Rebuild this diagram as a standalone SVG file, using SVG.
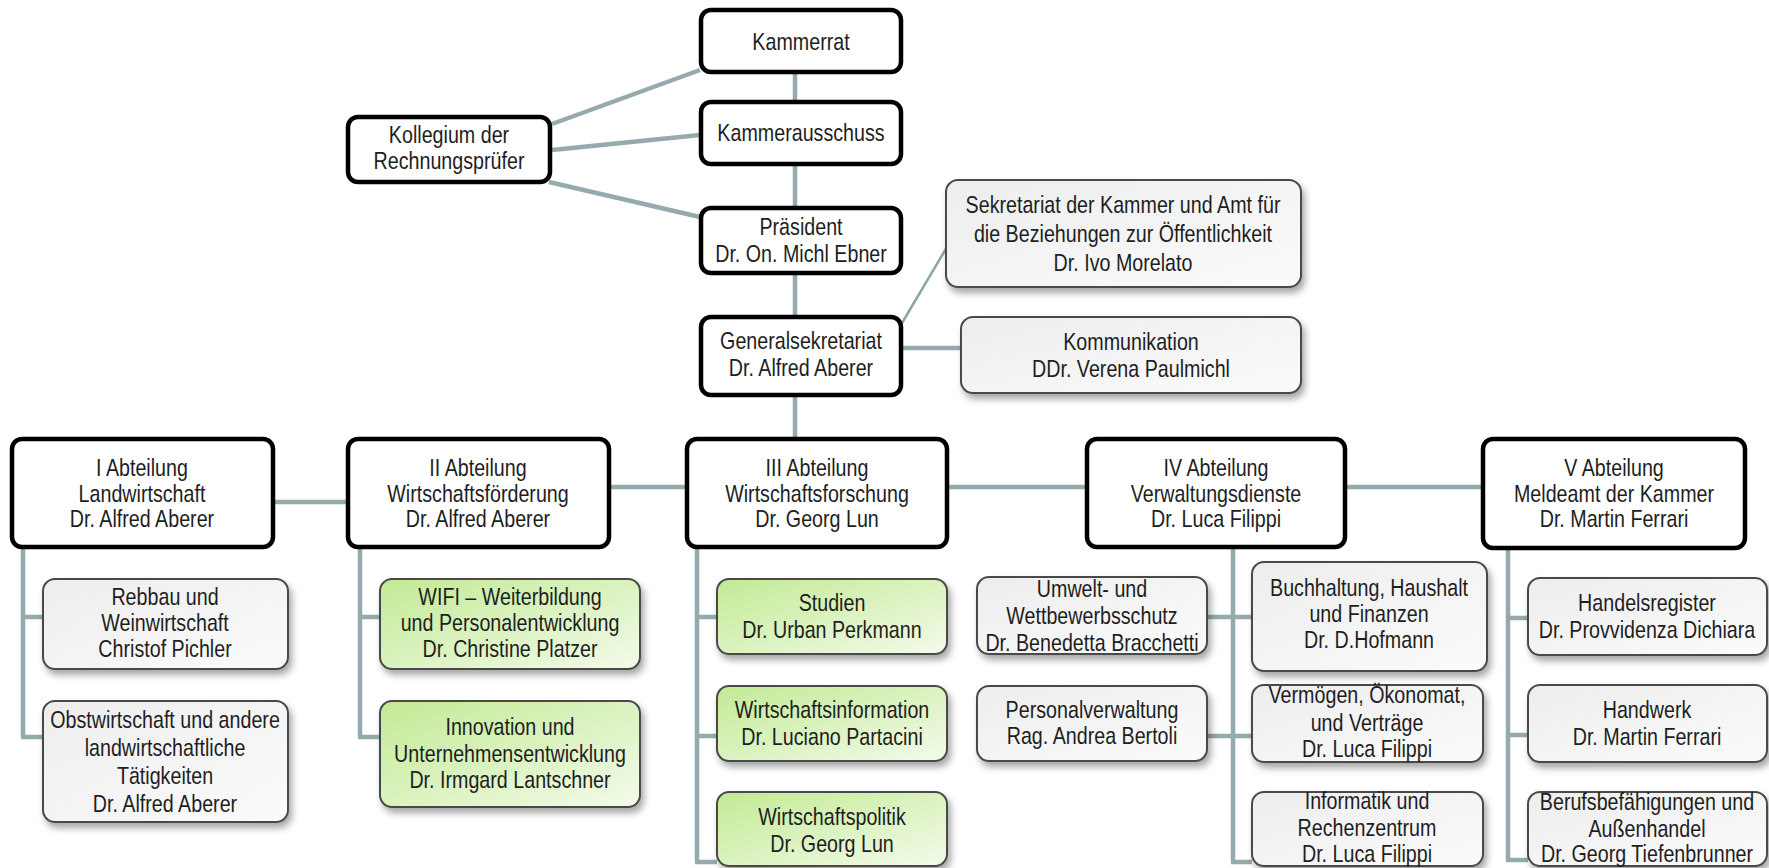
<svg xmlns="http://www.w3.org/2000/svg" width="1769" height="868" viewBox="0 0 1769 868">
<style>
.t{font-family:"Liberation Sans","Arial",sans-serif;font-size:24px;fill:#1e1e1e;text-anchor:middle}
.top{fill:#fff;stroke:#000;stroke-width:4.5}
.sub{fill:url(#gray);stroke:#4a4a4a;stroke-width:2;filter:url(#sh)}
.grn{fill:url(#green);stroke:#4a4a4a;stroke-width:2;filter:url(#sh)}
.c{stroke:#94aaad;stroke-width:4.5;fill:none}
.c2{stroke:#8ba89f;stroke-width:2.5;fill:none}
</style>
<defs>
<linearGradient id="gray" x1="0" y1="0" x2="1" y2="1"><stop offset="0" stop-color="#ededed"/><stop offset="1" stop-color="#fbfbfb"/></linearGradient>
<linearGradient id="green" x1="0" y1="0" x2="1" y2="1"><stop offset="0" stop-color="#c2ea94"/><stop offset="1" stop-color="#f3fbea"/></linearGradient>
<filter id="sh" x="-10%" y="-10%" width="130%" height="140%"><feDropShadow dx="3" dy="5" stdDeviation="3.5" flood-color="#000" flood-opacity="0.35"/></filter>
</defs>
<rect width="1769" height="868" fill="#fff"/>
<g id="connectors">
<path class="c" d="M795 72V102M795 164V208M795 273V317M795 395V439"/>
<path class="c" d="M552 124L700 70M552 150L700 135M549 182L700 217"/>
<path class="c2" d="M902 323L947 247"/>
<path class="c" d="M901 348H961"/>
<path class="c" d="M273 502H348M609 487H687M947 487H1087M1345 487H1483"/>
<path class="c" d="M23 547V737M21 617H43M21 737H43"/>
<path class="c" d="M360 547V737M358 617H380M358 737H380"/>
<path class="c" d="M697 547V862M695 617H717M695 736H717M695 862H717"/>
<path class="c" d="M1233 547V862M1207 617H1252M1207 736H1252M1231 862H1252"/>
<path class="c" d="M1508 548V860M1506 618H1528M1506 735H1528M1506 860H1528"/>
</g>
<g id="kammerrat"><rect class="top" x="701" y="10" width="200" height="62" rx="10"/><text class="t" transform="translate(801 50) scale(.82 1)">Kammerrat</text></g>
<g id="kammerausschuss"><rect class="top" x="701" y="102" width="200" height="62" rx="10"/><text class="t" transform="translate(801 141) scale(.82 1)">Kammerausschuss</text></g>
<g id="kollegium"><rect class="top" x="348" y="117" width="202" height="65" rx="10"/><text class="t" transform="translate(449 143) scale(.82 1)">Kollegium der</text><text class="t" transform="translate(449 169) scale(.82 1)">Rechnungsprüfer</text></g>
<g id="praesident"><rect class="top" x="701" y="208" width="200" height="65" rx="10"/><text class="t" transform="translate(801 235) scale(.82 1)">Präsident</text><text class="t" transform="translate(801 262) scale(.82 1)">Dr. On. Michl Ebner</text></g>
<g id="generalsekretariat"><rect class="top" x="701" y="317" width="200" height="78" rx="10"/><text class="t" transform="translate(801 349) scale(.82 1)">Generalsekretariat</text><text class="t" transform="translate(801 376) scale(.82 1)">Dr. Alfred Aberer</text></g>
<g id="sekretariat"><rect class="sub" x="946" y="180" width="355" height="107" rx="12"/><text class="t" transform="translate(1123 213) scale(.82 1)">Sekretariat der Kammer und Amt für</text><text class="t" transform="translate(1123 242) scale(.82 1)">die Beziehungen zur Öffentlichkeit</text><text class="t" transform="translate(1123 271) scale(.82 1)">Dr. Ivo Morelato</text></g>
<g id="kommunikation"><rect class="sub" x="961" y="317" width="340" height="76" rx="12"/><text class="t" transform="translate(1131 350) scale(.82 1)">Kommunikation</text><text class="t" transform="translate(1131 377) scale(.82 1)">DDr. Verena Paulmichl</text></g>
<g id="abt1"><rect class="top" x="12" y="439" width="261" height="108" rx="10"/><text class="t" transform="translate(142 476) scale(.82 1)">I Abteilung</text><text class="t" transform="translate(142 502) scale(.82 1)">Landwirtschaft</text><text class="t" transform="translate(142 527) scale(.82 1)">Dr. Alfred Aberer</text></g>
<g id="abt2"><rect class="top" x="348" y="439" width="261" height="108" rx="10"/><text class="t" transform="translate(478 476) scale(.82 1)">II Abteilung</text><text class="t" transform="translate(478 502) scale(.82 1)">Wirtschaftsförderung</text><text class="t" transform="translate(478 527) scale(.82 1)">Dr. Alfred Aberer</text></g>
<g id="abt3"><rect class="top" x="687" y="439" width="260" height="108" rx="10"/><text class="t" transform="translate(817 476) scale(.82 1)">III Abteilung</text><text class="t" transform="translate(817 502) scale(.82 1)">Wirtschaftsforschung</text><text class="t" transform="translate(817 527) scale(.82 1)">Dr. Georg Lun</text></g>
<g id="abt4"><rect class="top" x="1087" y="439" width="258" height="108" rx="10"/><text class="t" transform="translate(1216 476) scale(.82 1)">IV Abteilung</text><text class="t" transform="translate(1216 502) scale(.82 1)">Verwaltungsdienste</text><text class="t" transform="translate(1216 527) scale(.82 1)">Dr. Luca Filippi</text></g>
<g id="abt5"><rect class="top" x="1483" y="439" width="262" height="109" rx="10"/><text class="t" transform="translate(1614 476) scale(.82 1)">V Abteilung</text><text class="t" transform="translate(1614 502) scale(.82 1)">Meldeamt der Kammer</text><text class="t" transform="translate(1614 527) scale(.82 1)">Dr. Martin Ferrari</text></g>
<g id="rebbau"><rect class="sub" x="43" y="579" width="245" height="90" rx="12"/><text class="t" transform="translate(165 605) scale(.82 1)">Rebbau und</text><text class="t" transform="translate(165 631) scale(.82 1)">Weinwirtschaft</text><text class="t" transform="translate(165 657) scale(.82 1)">Christof Pichler</text></g>
<g id="obst"><rect class="sub" x="43" y="701" width="245" height="121" rx="12"/><text class="t" transform="translate(165 728) scale(.82 1)">Obstwirtschaft und andere</text><text class="t" transform="translate(165 756) scale(.82 1)">landwirtschaftliche</text><text class="t" transform="translate(165 784) scale(.82 1)">Tätigkeiten</text><text class="t" transform="translate(165 812) scale(.82 1)">Dr. Alfred Aberer</text></g>
<g id="wifi"><rect class="grn" x="380" y="579" width="260" height="90" rx="12"/><text class="t" transform="translate(510 605) scale(.82 1)">WIFI – Weiterbildung</text><text class="t" transform="translate(510 631) scale(.82 1)">und Personalentwicklung</text><text class="t" transform="translate(510 657) scale(.82 1)">Dr. Christine Platzer</text></g>
<g id="innovation"><rect class="grn" x="380" y="701" width="260" height="106" rx="12"/><text class="t" transform="translate(510 735) scale(.82 1)">Innovation und</text><text class="t" transform="translate(510 762) scale(.82 1)">Unternehmensentwicklung</text><text class="t" transform="translate(510 788) scale(.82 1)">Dr. Irmgard Lantschner</text></g>
<g id="studien"><rect class="grn" x="717" y="579" width="230" height="75" rx="12"/><text class="t" transform="translate(832 611) scale(.82 1)">Studien</text><text class="t" transform="translate(832 638) scale(.82 1)">Dr. Urban Perkmann</text></g>
<g id="wirtschaftsinformation"><rect class="grn" x="717" y="686" width="230" height="75" rx="12"/><text class="t" transform="translate(832 718) scale(.82 1)">Wirtschaftsinformation</text><text class="t" transform="translate(832 745) scale(.82 1)">Dr. Luciano Partacini</text></g>
<g id="wirtschaftspolitik"><rect class="grn" x="717" y="792" width="230" height="74" rx="12"/><text class="t" transform="translate(832 825) scale(.82 1)">Wirtschaftspolitik</text><text class="t" transform="translate(832 852) scale(.82 1)">Dr. Georg Lun</text></g>
<g id="umwelt"><rect class="sub" x="977" y="577" width="230" height="77" rx="12"/><text class="t" transform="translate(1092 597) scale(.82 1)">Umwelt- und</text><text class="t" transform="translate(1092 624) scale(.82 1)">Wettbewerbsschutz</text><text class="t" transform="translate(1092 651) scale(.82 1)">Dr. Benedetta Bracchetti</text></g>
<g id="personal"><rect class="sub" x="977" y="686" width="230" height="75" rx="12"/><text class="t" transform="translate(1092 718) scale(.82 1)">Personalverwaltung</text><text class="t" transform="translate(1092 744) scale(.82 1)">Rag. Andrea Bertoli</text></g>
<g id="buchhaltung"><rect class="sub" x="1252" y="562" width="235" height="109" rx="12"/><text class="t" transform="translate(1369 596) scale(.82 1)">Buchhaltung, Haushalt</text><text class="t" transform="translate(1369 622) scale(.82 1)">und Finanzen</text><text class="t" transform="translate(1369 648) scale(.82 1)">Dr. D.Hofmann</text></g>
<g id="vermoegen"><rect class="sub" x="1252" y="685" width="231" height="77" rx="12"/><text class="t" transform="translate(1367 703) scale(.82 1)">Vermögen, Ökonomat,</text><text class="t" transform="translate(1367 731) scale(.82 1)">und Verträge</text><text class="t" transform="translate(1367 757) scale(.82 1)">Dr. Luca Filippi</text></g>
<g id="informatik"><rect class="sub" x="1252" y="792" width="231" height="74" rx="12"/><text class="t" transform="translate(1367 809) scale(.82 1)">Informatik und</text><text class="t" transform="translate(1367 836) scale(.82 1)">Rechenzentrum</text><text class="t" transform="translate(1367 862) scale(.82 1)">Dr. Luca Filippi</text></g>
<g id="handelsregister"><rect class="sub" x="1528" y="578" width="239" height="77" rx="12"/><text class="t" transform="translate(1647 611) scale(.82 1)">Handelsregister</text><text class="t" transform="translate(1647 638) scale(.82 1)">Dr. Provvidenza Dichiara</text></g>
<g id="handwerk"><rect class="sub" x="1528" y="685" width="239" height="77" rx="12"/><text class="t" transform="translate(1647 718) scale(.82 1)">Handwerk</text><text class="t" transform="translate(1647 745) scale(.82 1)">Dr. Martin Ferrari</text></g>
<g id="berufs"><rect class="sub" x="1528" y="792" width="239" height="74" rx="12"/><text class="t" transform="translate(1647 810) scale(.82 1)">Berufsbefähigungen und</text><text class="t" transform="translate(1647 837) scale(.82 1)">Außenhandel</text><text class="t" transform="translate(1647 862) scale(.82 1)">Dr. Georg Tiefenbrunner</text></g>
</svg>
